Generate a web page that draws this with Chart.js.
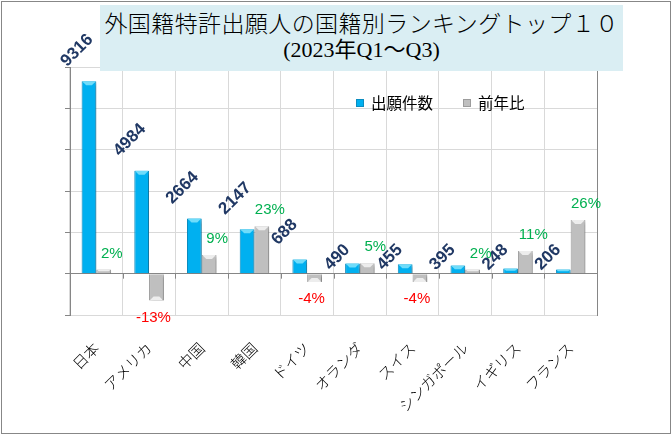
<!DOCTYPE html>
<html lang="ja">
<head>
<meta charset="utf-8">
<title>外国籍特許出願人の国籍別ランキング</title>
<script src="https://cdn.jsdelivr.net/npm/chart.js@4.4.0/dist/chart.umd.min.js"></script>
<style>
    html, body { margin: 0; padding: 0; background: #fff; }
    #marco { position: relative; width: 672px; height: 435px; overflow: hidden; }
    #borde {
        position: absolute; left: 1px; top: 1px; width: 668px; height: 431px;
        border: 1px solid #878787; pointer-events: none; z-index: 3;
    }
    #titulo {
        position: absolute; left: 100px; top: 5px; width: 523px; height: 66px;
        background: #DAEEF3; text-align: center; color: #000; z-index: 2;
    }
    #titulo .l1 { font: 300 23px "Noto Sans CJK JP"; line-height: 28px; padding-top: 3px; letter-spacing: 0.4px; }
    #titulo .l2 { font: normal 22px "Liberation Serif", "Noto Sans CJK JP"; line-height: 28px; }
</style>
</head>
<body>
<div id="marco">
    <canvas id="graficoPaises"></canvas>
    <div id="titulo">
        <div class="l1">外国籍特許出願人の国籍別ランキングトップ１０</div>
        <div class="l2">(2023年Q1～Q3)</div>
    </div>
    <div id="borde"></div>
</div>
<script>
'use strict';

// Datos
const PAISES = ['日本', 'アメリカ', '中国', '韓国', 'ドイツ', 'オランダ', 'スイス', 'シンガポール', 'イギリス', 'フランス'];
const CANTIDADES = [9316, 4984, 2664, 2147, 688, 490, 455, 395, 248, 206];
const VARIACION = [2, -13, 9, 23, -4, 5, -4, 2, 11, 26];   // 前年比 (%)
const SERIES = ['出願件数', '前年比'];

const GRIS_EJE = '#868686';
const GRIS_REJILLA = '#D9D9D9';

// Sombra suave bajo las barras
const sombraBarras = {
    id: 'sombraBarras',
    beforeDatasetsDraw(chart) {
        const ctx = chart.ctx;
        ctx.save();
        ctx.shadowColor = 'rgba(0,0,0,0.28)';
        ctx.shadowBlur = 3;
        ctx.shadowOffsetX = 2;
        ctx.shadowOffsetY = 2;
    },
    afterDatasetsDraw(chart) {
        chart.ctx.restore();
    }
};

// Biselado, marcas del eje cero, etiquetas y leyenda
const decoracion = {
    id: 'decoracion',
    afterDatasetsDraw(chart) {
        const ctx = chart.ctx;
        const caps = ['#6FDCFA', '#EDEDED'];

        chart.data.datasets.forEach((ds, di) => {
            chart.getDatasetMeta(di).data.forEach(bar => {
                const w = bar.width, x0 = bar.x - w / 2, x1 = bar.x + w / 2;
                const dir = bar.y <= bar.base ? 1 : -1;
                const d = Math.min(4, Math.abs(bar.base - bar.y) / 2);
                ctx.save();
                ctx.fillStyle = caps[di];
                ctx.beginPath();
                ctx.moveTo(x0 + 0.5, bar.y);
                ctx.lineTo(x1 - 0.5, bar.y);
                ctx.lineTo(x1 - 0.5 - d, bar.y + dir * d);
                ctx.lineTo(x0 + 0.5 + d, bar.y + dir * d);
                ctx.closePath();
                ctx.fill();
                ctx.restore();
            });
        });

        // marcas del eje de categorias sobre la linea cero
        const xs = chart.scales.x;
        const cero = chart.scales.y.getPixelForValue(0);
        const paso = xs.getPixelForValue(1) - xs.getPixelForValue(0);
        ctx.save();
        ctx.strokeStyle = GRIS_EJE;
        ctx.lineWidth = 1;
        ctx.beginPath();
        for (let i = 1; i < PAISES.length; i++) {
            const px = Math.round(xs.getPixelForValue(i) - paso / 2) + 0.5;
            ctx.moveTo(px, cero);
            ctx.lineTo(px, cero + 5);
        }
        ctx.stroke();
        ctx.restore();

        // etiquetas de cantidades (giradas 45 grados)
        const metaA = chart.getDatasetMeta(0);
        ctx.save();
        ctx.font = 'bold 17px "Liberation Sans", Arial';
        ctx.fillStyle = '#203864';
        ctx.textAlign = 'left';
        ctx.textBaseline = 'alphabetic';
        metaA.data.forEach((bar, i) => {
            const px = bar.x - 22;
            // barras bajas: la etiqueta se apoya sobre la linea cero
            const py = (cero - bar.y) < 12 ? cero - 3 : bar.y - 14;
            ctx.save();
            ctx.translate(px, py);
            ctx.rotate(-Math.PI / 4);
            ctx.fillText(String(CANTIDADES[i]), 0, 0);
            ctx.restore();
        });
        ctx.restore();

        // etiquetas de variacion
        const metaB = chart.getDatasetMeta(1);
        ctx.save();
        ctx.font = '15px "Liberation Sans", Arial';
        ctx.textAlign = 'center';
        ctx.textBaseline = 'middle';
        metaB.data.forEach((bar, i) => {
            const v = VARIACION[i];
            if (v >= 0) {
                ctx.fillStyle = '#00B050';
                ctx.fillText(v + '%', bar.x + 8, bar.y - 16);
            } else {
                ctx.fillStyle = '#FF0000';
                ctx.fillText(v + '%', bar.x - 3, bar.y + 17);
            }
        });
        ctx.restore();
    },
    afterDraw(chart) {
        // leyenda dentro del area del grafico
        const ctx = chart.ctx;
        let x = 356;
        const y = 103;
        ctx.save();
        ctx.font = '15.5px "Noto Sans CJK JP"';
        ctx.textBaseline = 'middle';
        chart.data.datasets.forEach(ds => {
            ctx.fillStyle = ds.backgroundColor;
            ctx.fillRect(x, y - 4, 8, 8);
            ctx.strokeStyle = ds.borderColor;
            ctx.lineWidth = 1;
            ctx.strokeRect(x + 0.5, y - 3.5, 7, 7);
            ctx.fillStyle = '#000';
            ctx.fillText(ds.label, x + 15, y);
            x += 15 + ctx.measureText(ds.label).width + 30;
        });
        ctx.restore();
    }
};

function crearGrafico() {
    const canvas = document.getElementById('graficoPaises');

    new Chart(canvas, {
        type: 'bar',
        data: {
            labels: PAISES,
            datasets: [{
                label: SERIES[0],
                data: CANTIDADES,
                yAxisID: 'y',
                backgroundColor: '#00B0F0',
                borderColor: '#0C8DC0',
                borderWidth: 1,
                categoryPercentage: 0.56,
                barPercentage: 1.0
            }, {
                label: SERIES[1],
                data: VARIACION,
                yAxisID: 'y1',
                backgroundColor: '#BFBFBF',
                borderColor: '#9C9C9C',
                borderWidth: 1,
                categoryPercentage: 0.56,
                barPercentage: 1.0
            }]
        },
        options: {
            responsive: true,
            maintainAspectRatio: false,
            animation: false,
            layout: { padding: { top: 67, left: 65, right: 75, bottom: 0 } },
            plugins: {
                legend: { display: false },
                title: { display: false },
                tooltip: { enabled: false }
            },
            scales: {
                x: {
                    grid: { color: GRIS_REJILLA, drawTicks: false, offset: true },
                    border: { color: GRIS_REJILLA },
                    ticks: {
                        minRotation: 45,
                        maxRotation: 45,
                        autoSkip: false,
                        padding: 24,
                        color: '#000',
                        font: { family: '"Noto Sans CJK JP"', size: 15, weight: 300 }
                    },
                    afterFit: s => { s.height = 120; }
                },
                y: {
                    position: 'left',
                    min: -2000,
                    max: 10000,
                    ticks: { display: false, stepSize: 2000 },
                    grid: {
                        color: c => (c.tick && c.tick.value === 0 ? GRIS_EJE : GRIS_REJILLA),
                        tickColor: GRIS_EJE,
                        tickLength: 5
                    },
                    border: { display: true, color: GRIS_EJE },
                    afterFit: s => { s.width = 5; }
                },
                y1: {
                    position: 'right',
                    min: -20,
                    max: 100,
                    ticks: { display: false, stepSize: 20 },
                    grid: { drawOnChartArea: false, drawTicks: false },
                    border: { display: true, color: GRIS_EJE },
                    afterFit: s => { s.width = 0; }
                }
            }
        },
        plugins: [sombraBarras, decoracion]
    });
}

document.addEventListener('DOMContentLoaded', crearGrafico);
</script>
</body>
</html>
